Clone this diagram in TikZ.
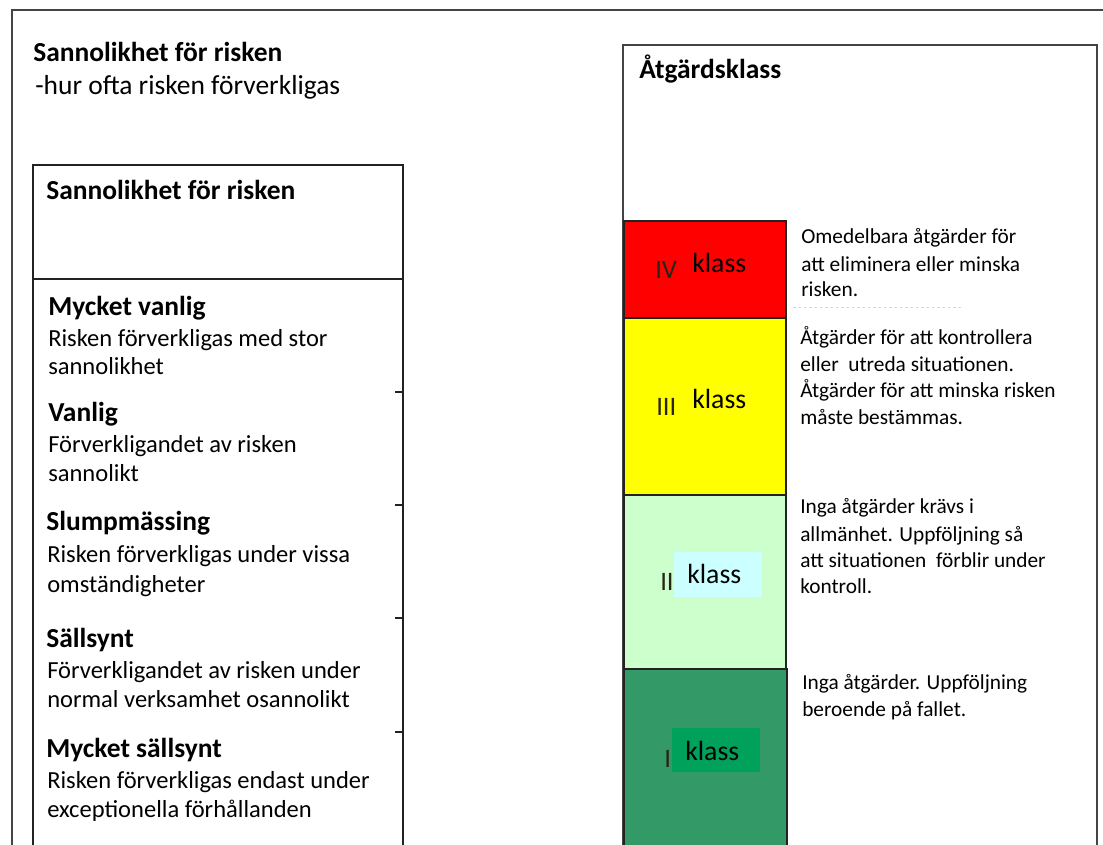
\documentclass[tikz,border=0pt]{standalone}
\usepackage{fontspec}
\setmainfont{Carlito}
\definecolor{cRed}{HTML}{FF0000}
\definecolor{cYel}{HTML}{FFFF00}
\definecolor{cLgr}{HTML}{CCFFCC}
\definecolor{cDgr}{HTML}{339966}
\definecolor{cCyan}{HTML}{CCFFFF}
\definecolor{cGrn}{HTML}{00A15A}
\definecolor{cLine}{HTML}{222222}
\definecolor{cFrame}{HTML}{444444}
\definecolor{cNum}{HTML}{2A2418}
\begin{document}
\begin{tikzpicture}[x=0.75pt,y=-0.75pt,
  txt/.style={inner sep=0pt, anchor=base west},
  hb/.style={txt, font=\fontsize{20.6}{24}\selectfont\bfseries},
  hr/.style={txt, font=\fontsize{20.6}{24}\selectfont},
  body/.style={txt, font=\fontsize{18.4}{21}\selectfont},
  rt/.style={txt, font=\fontsize{16}{19}\selectfont},
  kl/.style={txt, font=\fontsize{20.8}{24}\selectfont},
  rn/.style={txt, font=\fontsize{20}{22}\selectfont, text=cNum},
  frame/.style={draw=cFrame, line width=1.1pt},
  tbl/.style={draw=cLine, line width=1.5pt},
  blk/.style={draw=cLine, line width=1.5pt}]
\useasboundingbox (0,0) rectangle (1103,844);
\fill[white] (0,0) rectangle (1103,844);

% outer frame (left and top edges only)
\draw[frame] (12,846) -- (12,10) -- (1105,10);

% header texts
\node[hb] (t1) at (33,61) {Sannolikhet för risken};
\node[hr] (t2) at (35,94) {-hur ofta risken förverkligas};

% left table
\draw[tbl] (33,846) -- (33,165) -- (403,165) -- (403,846);
\draw[tbl] (33,279) -- (403,279);
\foreach \yy in {392,505,618,732} \draw[tbl] (395,\yy) -- (403,\yy);

\node[hb] (h0) at (46,199) {Sannolikhet för risken};

\node[hb] (a1) at (48,315) {Mycket vanlig};
\node[body] (a2) at (48,346) {Risken förverkligas med stor};
\node[body] (a3) at (48,374) {sannolikhet};

\node[hb] (b1) at (48,421) {Vanlig};
\node[body] (b2) at (48,452) {Förverkligandet av risken};
\node[body] (b3) at (48,481) {sannolikt};

\node[hb] (c1) at (46,530) {Slumpmässing};
\node[body] (c2) at (47,562) {Risken förverkligas under vissa};
\node[body] (c3) at (47,592) {omständigheter};

\node[hb] (d1) at (46,647) {Sällsynt};
\node[body] (d2) at (47,678) {Förverkligandet av risken under};
\node[body] (d3) at (47,707) {normal verksamhet osannolikt};

\node[hb] (e1) at (46,757) {Mycket sällsynt};
\node[body] (e2) at (47,788) {Risken förverkligas endast under};
\node[body] (e3) at (47,817) {exceptionella förhållanden};

% right box
\draw[frame, line width=1.5pt] (623,846) -- (623,45) -- (1097,45) -- (1097,846);
\node[hb] (rt0) at (639,78) {Åtgärdsklass};

% colour blocks
\draw[blk, fill=cRed] (624,221) rectangle (786,318);
\draw[blk, fill=cYel] (624,318) rectangle (786,495);
\draw[blk, fill=cLgr] (624,495) rectangle (786,669);
\draw[blk, fill=cDgr] (624,669) rectangle (787,846);

\node[rn] (n4) at (655,278) {IV};
\node[kl] (k4) at (692,272) {klass};
\node[rn] (n3) at (656,415) {III};
\node[kl] (k3) at (692,408) {klass};

\fill[cCyan] (674,552) rectangle (762,597);
\node[rn] (n2) at (660,590) {II};
\node[kl] (k2) at (687,583) {klass};

\fill[cGrn] (672,728) rectangle (760,772);
\node[rn] (n1) at (664,767) {I};
\node[kl] (k1) at (685,760) {klass};

% faint artifact line
\draw[gray!30, line width=0.7pt, dash pattern=on 2pt off 2pt] (793,307) -- (962,307);

% right descriptions
\node[rt] (r41) at (801,243) {Omedelbara åtgärder för};
\node[rt] (r42) at (801,271) {att eliminera eller minska};
\node[rt] (r43) at (801,296) {risken.};

\node[rt] (r31) at (800,344) {Åtgärder för att kontrollera};
\node[rt] (r32) at (800,371) {eller\ \ utreda situationen.};
\node[rt] (r33) at (800,397) {Åtgärder för att minska risken};
\node[rt] (r34) at (800,424) {måste bestämmas.};

\node[rt] (r21) at (800,513) {Inga åtgärder krävs i};
\node[rt] (r22) at (800,541) {allmänhet. Uppföljning så};
\node[rt] (r23) at (800,567) {att situationen\ \ förblir under};
\node[rt] (r24) at (800,593) {kontroll.};

\node[rt] (r11) at (802,689) {Inga åtgärder. Uppföljning};
\node[rt] (r12) at (802,716) {beroende på fallet.};
\end{tikzpicture}
\end{document}
